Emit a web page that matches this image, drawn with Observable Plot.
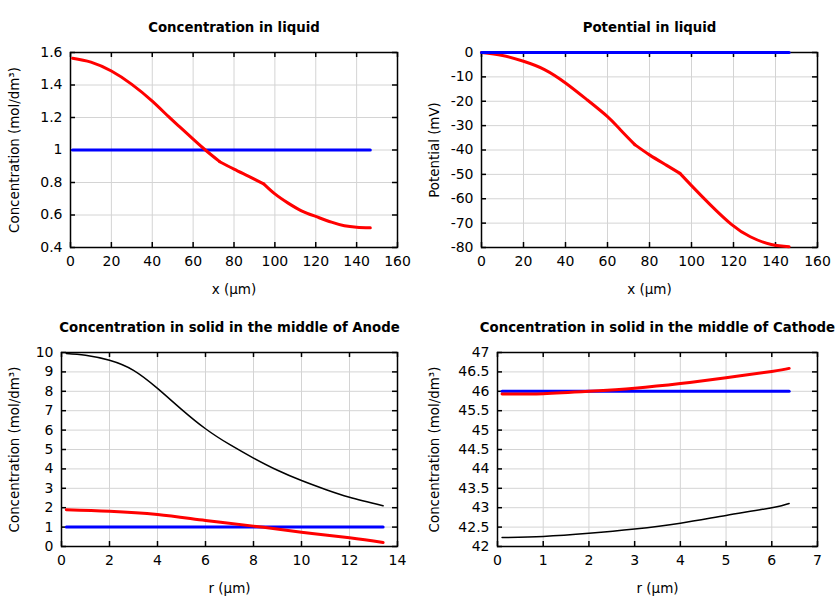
<!DOCTYPE html>
<html>
<head>
<meta charset="utf-8">
<script src="https://cdn.jsdelivr.net/npm/d3@7"></script>
<script src="https://cdn.jsdelivr.net/npm/@observablehq/plot@0.6"></script>
<style>
  html, body { margin: 0; padding: 0; background: #fff; }
  #root { position: relative; width: 840px; height: 600px; font-family: "DejaVu Sans", sans-serif; }
  #root svg { position: absolute; }
</style>
</head>
<body>
<div id="root"></div>
<script>
// ---------- Data ----------
// Region boundaries along x (anode | separator | cathode), where the liquid curves bend
const regionBounds = [73, 94.5];

// Panel 1: Concentration in liquid
const liquidX = [1, 10, 20, 30, 40, 48, 54, 60, 66, 73, 80, 87, 94.5, 100, 106.5, 113, 120, 127.7, 134, 140, 146.7];
const liquidConc = [1.565, 1.541, 1.486, 1.404, 1.301, 1.205, 1.136, 1.067, 1.0, 0.928, 0.882, 0.839, 0.792, 0.73, 0.673, 0.626, 0.591, 0.556, 0.534, 0.525, 0.521];
const liquidInitX = [1, 146.7];
const liquidInitConc = [1, 1];

// Panel 2: Potential in liquid
const potX = [0, 10, 20, 30, 40, 50, 60, 66, 73, 80, 88, 94.5, 100, 109, 119, 128, 138, 146.5];
const potV = [0, -1.2, -3.6, -7.0, -12.5, -19.2, -26.3, -31.6, -37.8, -42.0, -46.2, -49.6, -54.6, -62.5, -70.5, -75.6, -78.8, -79.7];
const potInitX = [0, 146.5];
const potInitV = [0, 0];

// Panel 3: Concentration in solid, middle of anode
const anodeR = [0.2, 1, 2, 3, 4, 5, 6, 7, 8, 9, 10, 11, 12, 13.4];
const anodeBlack = [9.95, 9.86, 9.6, 9.08, 8.15, 7.07, 6.07, 5.26, 4.56, 3.93, 3.4, 2.94, 2.54, 2.1];
const anodeRedR = [0.2, 2, 4, 6, 8, 10, 12, 13.4];
const anodeRed = [1.9, 1.82, 1.65, 1.34, 1.05, 0.74, 0.45, 0.21];
const anodeInitR = [0.2, 13.4];
const anodeInit = [1, 1];

// Panel 4: Concentration in solid, middle of cathode
const cathR = [0.1, 1, 2, 3, 4, 5, 6, 6.38];
const cathRed = [45.93, 45.94, 46.0, 46.08, 46.2, 46.35, 46.51, 46.59];
const cathBlack = [42.23, 42.26, 42.34, 42.45, 42.6, 42.8, 43.0, 43.11];
const cathInitR = [0.1, 6.38];
const cathInit = [46, 46];

// Ticks
const xTicksLiquid = [0, 20, 40, 60, 80, 100, 120, 140, 160];
const yTicksConcLiquid = [0.4, 0.6, 0.8, 1, 1.2, 1.4, 1.6];
const yTicksPot = [0, -10, -20, -30, -40, -50, -60, -70, -80];
const xTicksAnode = [0, 2, 4, 6, 8, 10, 12, 14];
const yTicksAnode = [0, 1, 2, 3, 4, 5, 6, 7, 8, 9, 10];
const xTicksCath = [0, 1, 2, 3, 4, 5, 6, 7];
const yTicksCath = [42, 42.5, 43, 43.5, 44, 44.5, 45, 45.5, 46, 46.5, 47];

const titles = ["Concentration in liquid", "Potential in liquid",
  "Concentration in solid in the middle of Anode", "Concentration in solid in the middle of Cathode"];
const yLabels = ["Concentration (mol/dm³)", "Potential (mV)", "Concentration (mol/dm³)", "Concentration (mol/dm³)"];
const xLabels = ["x (µm)", "x (µm)", "r (µm)", "r (µm)"];

const zip = (xs, ys) => xs.map((x, i) => ({x, y: ys[i], seg: 0}));
// split a series into regions; boundary points belong to both neighbouring regions
function zipRegions(xs, ys, bounds) {
  const edges = [-Infinity, ...bounds, Infinity];
  const out = [];
  for (let s = 0; s < edges.length - 1; s++) {
    xs.forEach((x, i) => { if (x >= edges[s] && x <= edges[s + 1]) out.push({x, y: ys[i], seg: s}); });
  }
  return out;
}
const fmt = d => String(d);

const RED = "#ff0000", BLUE = "#0000ff", BLACK = "#000000";

function panel({left, top, ml, mr, mt, mb, xDomain, yDomain, xTicks, yTicks, series, title, xLabel, yLabel}) {
  const W = 420, H = 300;
  const iw = W - ml - mr, ih = H - mt - mb;
  const marks = [
    Plot.gridX(xTicks, {stroke: "#d4d4d4", strokeOpacity: 1}),
    Plot.gridY(yTicks, {stroke: "#d4d4d4", strokeOpacity: 1}),
    Plot.frame({stroke: "black", strokeWidth: 1.5}),
    Plot.tickX(xTicks, {x: d => d, insetTop: ih - 5, stroke: "black", strokeWidth: 1.5}),
    Plot.tickX(xTicks, {x: d => d, insetBottom: ih - 5, stroke: "black", strokeWidth: 1.5}),
    Plot.tickY(yTicks, {y: d => d, insetRight: iw - 5, stroke: "black", strokeWidth: 1.5}),
    Plot.tickY(yTicks, {y: d => d, insetLeft: iw - 5, stroke: "black", strokeWidth: 1.5}),
    ...series.map(s => Plot.line(s.data, {x: "x", y: "y", z: "seg", stroke: s.color, strokeWidth: s.w, curve: "natural"})),
    Plot.axisX({ticks: xTicks, tickSize: 0, tickPadding: 9, tickFormat: fmt, label: null, fontSize: 14}),
    Plot.axisY({ticks: yTicks, tickSize: 0, tickPadding: 8, tickFormat: fmt, label: null, fontSize: 14}),
    Plot.text([title], {text: d => d, frameAnchor: "top", lineAnchor: "middle", textAnchor: "middle", dy: -25, fontWeight: "bold", fontSize: 13.3}),
    Plot.text([xLabel], {text: d => d, frameAnchor: "bottom", lineAnchor: "middle", textAnchor: "middle", dy: 42, fontSize: 13.5}),
    Plot.text([yLabel], {text: d => d, frameAnchor: "left", lineAnchor: "middle", textAnchor: "middle", dx: -(ml - 14), rotate: -90, fontSize: 13.4})
  ];
  const svg = Plot.plot({
    width: W, height: H,
    marginLeft: ml, marginRight: mr, marginTop: mt, marginBottom: mb,
    x: {domain: xDomain},
    y: {domain: yDomain},
    style: {fontFamily: "DejaVu Sans, sans-serif", fontSize: "13px", color: "black", background: "transparent", overflow: "visible"},
    marks
  });
  svg.style.left = left + "px";
  svg.style.top = top + "px";
  document.getElementById("root").appendChild(svg);
}

panel({left: 0, top: 0, ml: 70, mr: 23, mt: 52, mb: 53, xDomain: [0, 160], yDomain: [0.4, 1.6],
  xTicks: xTicksLiquid, yTicks: yTicksConcLiquid,
  series: [
    {data: zip(liquidInitX, liquidInitConc), color: BLUE, w: 3},
    {data: zipRegions(liquidX, liquidConc, regionBounds), color: RED, w: 3}
  ], title: titles[0], xLabel: xLabels[0], yLabel: yLabels[0]});

panel({left: 420, top: 0, ml: 61, mr: 23, mt: 52, mb: 53, xDomain: [0, 160], yDomain: [-80, 0],
  xTicks: xTicksLiquid, yTicks: yTicksPot,
  series: [
    {data: zipRegions(potX, potV, regionBounds), color: RED, w: 3},
    {data: zip(potInitX, potInitV), color: BLUE, w: 3}
  ], title: titles[1], xLabel: xLabels[1], yLabel: yLabels[1]});

panel({left: 0, top: 300, ml: 61, mr: 23, mt: 52, mb: 54, xDomain: [0, 14], yDomain: [0, 10],
  xTicks: xTicksAnode, yTicks: yTicksAnode,
  series: [
    {data: zip(anodeR, anodeBlack), color: BLACK, w: 1.5},
    {data: zip(anodeInitR, anodeInit), color: BLUE, w: 3},
    {data: zip(anodeRedR, anodeRed), color: RED, w: 3}
  ], title: titles[2], xLabel: xLabels[2], yLabel: yLabels[2]});

panel({left: 420, top: 300, ml: 77, mr: 23, mt: 52, mb: 54, xDomain: [0, 7], yDomain: [42, 47],
  xTicks: xTicksCath, yTicks: yTicksCath,
  series: [
    {data: zip(cathR, cathBlack), color: BLACK, w: 1.5},
    {data: zip(cathInitR, cathInit), color: BLUE, w: 3},
    {data: zip(cathR, cathRed), color: RED, w: 3}
  ], title: titles[3], xLabel: xLabels[3], yLabel: yLabels[3]});
</script>
</body>
</html>
